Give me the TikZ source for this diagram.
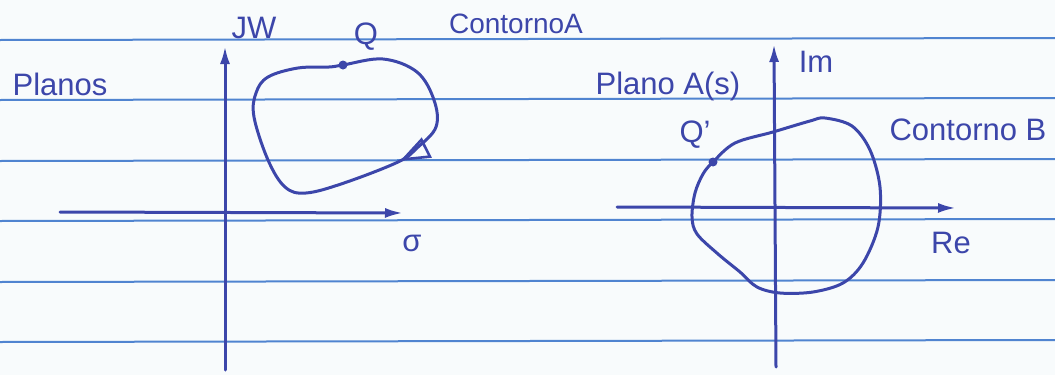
\documentclass[tikz,border=0pt]{standalone}
\usepackage{fontspec}
\setmainfont{Liberation Sans}
\usetikzlibrary{arrows.meta,decorations.markings}
\definecolor{paper}{RGB}{248,251,252}
\definecolor{rulecol}{RGB}{80,132,208}
\definecolor{ink}{RGB}{60,70,170}
\begin{document}
\begin{tikzpicture}[x=1pt,y=-1pt,
  inkline/.style={draw=ink,line width=3pt,line cap=round,line join=round},
  axis/.style={inkline,-{Latex[length=18pt,width=10pt]}},
  rl/.style={draw=rulecol,line width=2pt},
  lbl/.style={text=ink,font=\fontsize{31}{33}\selectfont,inner sep=0pt},
  dotmark/.style={circle,fill=ink,inner sep=0pt,minimum size=9pt}]
\fill[paper] (0,0) rectangle (1055,375);
\useasboundingbox (0,0) rectangle (1055,375);
% ruled lines
\foreach \y in {40,100,161,221,282,342} \draw[rl] (0,\y) -- (1055,\y-2);
% left plane axes
\coordinate (vA0) at (225,370); \coordinate (vA1) at (225,46);
\coordinate (hA0) at (60,212); \coordinate (hA1) at (403,213);
\draw[axis] (vA0) -- (vA1);
\draw[axis] (hA0) -- (hA1);
% contour A
\draw[inkline, postaction=decorate, decoration={markings, mark=at position 0.29 with {\arrow{Triangle[open,length=30pt,width=22pt,line width=2.6pt]}}}]
  plot[smooth cycle, tension=0.6] coordinates {(343,65) (383,59) (417,72) (434,100) (436,127) (417,148) (398,162) (344,183) (306,193) (285,187) (268,160) (254,117) (256,93) (268,77) (298,68) (329,67)};
\node[dotmark] (qdot) at (343,65) {};
% right plane axes
\coordinate (vB0) at (776,367); \coordinate (vB1) at (774,44);
\coordinate (hB0) at (617,207); \coordinate (hB1) at (956,208);
\draw[axis] (vB0) -- (vB1);
\draw[axis] (hB0) -- (hB1);
% contour B
\draw[inkline] plot[smooth cycle, tension=0.55] coordinates {(713,162) (735,143) (773,132) (810,121) (825,118) (852,126) (870,150) (880,187) (878,227) (863,263) (843,283) (813,292) (780,293) (757,287) (740,272) (718,254) (697,234) (692,217) (695,193) (703,174)};
\node[dotmark] (qpdot) at (713,162) {};
% labels
\node[lbl] (planos) at (60,84) {Planos};
\node[lbl] (jw) at (254,28) {JW};
\node[lbl] (q) at (366,37) {Q};
\node[lbl,font=\fontsize{28}{30}\selectfont] (contA) at (516,24) {ContornoA};
\node[lbl] (sigma) at (412,243) {σ};
\node[lbl] (planoAs) at (668,86) {Plano A(s)};
\node[lbl] (im) at (816,62) {Im};
\node[lbl] (qp) at (695,135) {Q'};
\node[lbl] (contB) at (968,130) {Contorno B};
\node[lbl] (re) at (951,243) {Re};
\end{tikzpicture}
\end{document}
